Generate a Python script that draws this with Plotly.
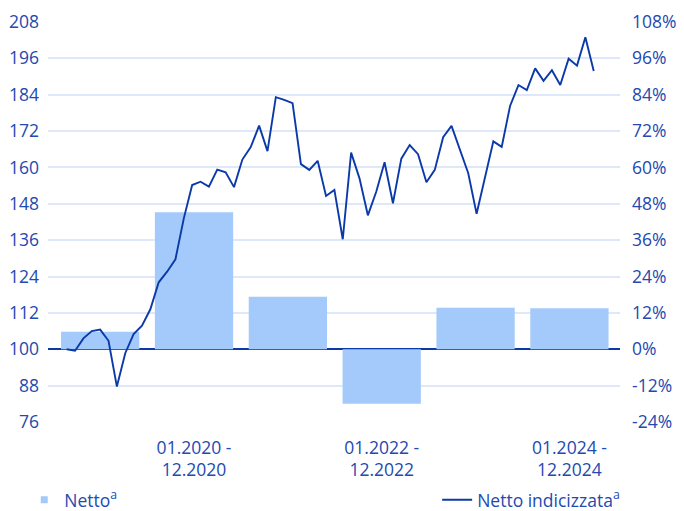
import plotly.graph_objects as go

# ---- data ----
periods = ["01.2019 - 12.2019", "01.2020 - 12.2020", "01.2021 - 12.2021",
           "01.2022 - 12.2022", "01.2023 - 12.2023", "01.2024 - 12.2024"]
netto_pct = [5.8, 45.2, 17.3, -18.0, 13.7, 13.5]

netto_indexed = [
    100.0, 99.5, 103.6, 106.0, 106.5, 102.8, 87.7, 98.7, 105.0, 107.8,
    113.2, 122.1, 125.6, 129.7, 143.2, 154.2, 155.3, 153.7, 159.3, 158.4,
    153.5, 162.6, 166.7, 173.8, 165.4, 183.2, 182.3, 181.2, 161.1, 159.2,
    162.2, 150.6, 152.6, 136.3, 164.9, 156.4, 144.2, 152.0, 161.7, 148.2,
    162.9, 167.4, 164.4, 155.1, 159.2, 170.0, 173.7, 166.0, 158.1, 144.7,
    156.4, 168.6, 166.8, 180.3, 187.2, 185.5, 192.7, 188.6, 192.1, 187.2,
    195.9, 193.6, 203.0, 191.8,
]

index_ticks = [76, 88, 100, 112, 124, 136, 148, 160, 172, 184, 196, 208]
pct_ticks = [-24, -12, 0, 12, 24, 36, 48, 60, 72, 84, 96, 108]
shown_periods = periods[1::2]

TXT = "#2449b0"
FONT = "Open Sans"
FS = 17.5

fig = go.Figure()

# bars: primary x / primary y (percent, right side)
fig.add_trace(go.Bar(
    x=periods, y=netto_pct, name="Netto<sup>a</sup>",
    marker=dict(color="#a3cafa", line=dict(width=0)),
    width=0.834, showlegend=False,
))
# legend entry for bars (small square)
fig.add_trace(go.Scatter(
    x=[None], y=[None], mode="markers", name="Netto<sup>a</sup>",
    marker=dict(symbol="square", size=7, color="#a3cafa"),
    legend="legend",
))
# line: overlay x2 / y2 (index, left side)
fig.add_trace(go.Scatter(
    x=list(range(len(netto_indexed))), y=netto_indexed,
    name="Netto indicizzata<sup>a</sup>", mode="lines",
    line=dict(color="#0b3aa8", width=1.9),
    xaxis="x2", yaxis="y2", legend="legend2",
))

fig.update_layout(
    width=676, height=503,
    margin=dict(l=40, r=64, t=14, b=89),
    plot_bgcolor="white", paper_bgcolor="white",
    font=dict(family=FONT, size=FS, color=TXT),
    xaxis=dict(
        type="category", range=[-0.556, 5.539], automargin=False,
        tickmode="array", tickvals=shown_periods,
        ticktext=[p.replace(" - ", " -<br>") for p in shown_periods],
        showgrid=False, zeroline=False, showline=False, ticks="",
        ticklabelstandoff=13, tickfont=dict(size=FS, color=TXT),
    ),
    xaxis2=dict(
        overlaying="x", anchor="y2", range=[-2.234, 66.14], visible=False,
        automargin=False,
    ),
    yaxis=dict(
        side="right", range=[-24, 108], automargin=False,
        tickmode="array", tickvals=pct_ticks,
        ticktext=[f"{v}%" for v in pct_ticks],
        showgrid=True, gridcolor="#dde9fb", gridwidth=1.5,
        zeroline=True, zerolinecolor="#0b3aa8", zerolinewidth=1.5,
        showline=False, ticks="", ticklabelstandoff=11,
        tickfont=dict(size=FS, color=TXT),
    ),
    yaxis2=dict(
        overlaying="y", side="left", anchor="x2", range=[76, 208],
        automargin=False, tickmode="array", tickvals=index_ticks,
        showgrid=False, zeroline=False, showline=False, ticks="",
        ticklabelstandoff=8, tickfont=dict(size=FS, color=TXT),
    ),
    legend=dict(x=-0.0415, y=0.022, yref="container", xanchor="left",
                yanchor="middle", bgcolor="rgba(0,0,0,0)",
                font=dict(size=FS, color=TXT), itemwidth=30),
    legend2=dict(x=1.009, y=0.022, yref="container", xanchor="right",
                 yanchor="middle", bgcolor="rgba(0,0,0,0)",
                 font=dict(size=FS, color=TXT)),
    showlegend=True,
)

fig.write_html("out.html")
